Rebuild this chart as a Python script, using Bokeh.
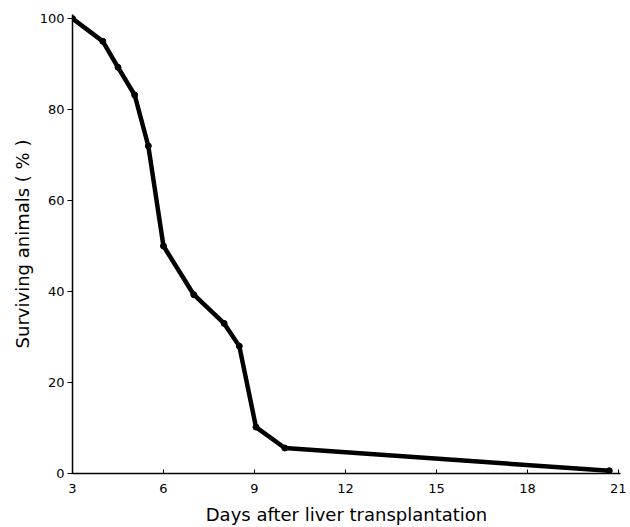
from bokeh.plotting import figure
from bokeh.embed import file_html
from bokeh.resources import INLINE
from bokeh.models import Range1d, FixedTicker

days = [3.0, 4.0, 4.5, 5.05, 5.5, 6.0, 7.0, 8.0, 8.5, 9.05, 10.0, 20.7]
survival = [100, 95, 89.3, 83.2, 72, 50, 39.3, 33, 28, 10.2, 5.6, 0.6]
x_ticks = [3, 6, 9, 12, 15, 18, 21]
x_tick_labels = ["3", "6", "9", "12", "15", "18", "21"]
y_ticks = [0, 20, 40, 60, 80, 100]

FONT = "DejaVu Sans"

p = figure(width=630, height=527, output_backend="svg", toolbar_location=None,
           x_range=Range1d(3, 21.07), y_range=Range1d(0, 100.9),
           min_border_left=72, min_border_right=10, min_border_top=14, min_border_bottom=54)
p.outline_line_color = None
p.xgrid.grid_line_color = None
p.ygrid.grid_line_color = None
p.background_fill_color = "white"
p.border_fill_color = "white"

p.line(days, survival, line_color="black", line_width=4.5, line_join="round")
p.scatter(days, survival, size=6, color="black")

for ax in (p.xaxis, p.yaxis):
    ax.minor_tick_line_color = None
    ax.axis_line_width = 1.5
    ax.axis_line_color = "black"
    ax.major_tick_line_color = "black"
    ax.axis_label_text_font = FONT
    ax.axis_label_text_font_style = "normal"
    ax.axis_label_text_font_size = "18px"
    ax.axis_label_text_color = "black"
    ax.major_label_text_font = FONT
    ax.major_label_text_font_size = "13px"
    ax.major_label_text_color = "black"

p.xaxis.ticker = FixedTicker(ticks=x_ticks)
p.xaxis.major_label_overrides = {t: l for t, l in zip(x_ticks, x_tick_labels)}
p.xaxis.major_tick_in = 4
p.xaxis.major_tick_out = 0
p.xaxis.axis_label = "Days after liver transplantation"
p.xaxis.axis_label_standoff = 8
p.xaxis.major_label_standoff = 10

p.yaxis.ticker = FixedTicker(ticks=y_ticks)
p.yaxis.major_tick_in = 0
p.yaxis.major_tick_out = 5
p.yaxis.axis_label = "Surviving animals ( % )"
p.yaxis.axis_label_standoff = 4
p.yaxis.major_label_standoff = 3

open("out.html", "w").write(file_html(p, INLINE))
